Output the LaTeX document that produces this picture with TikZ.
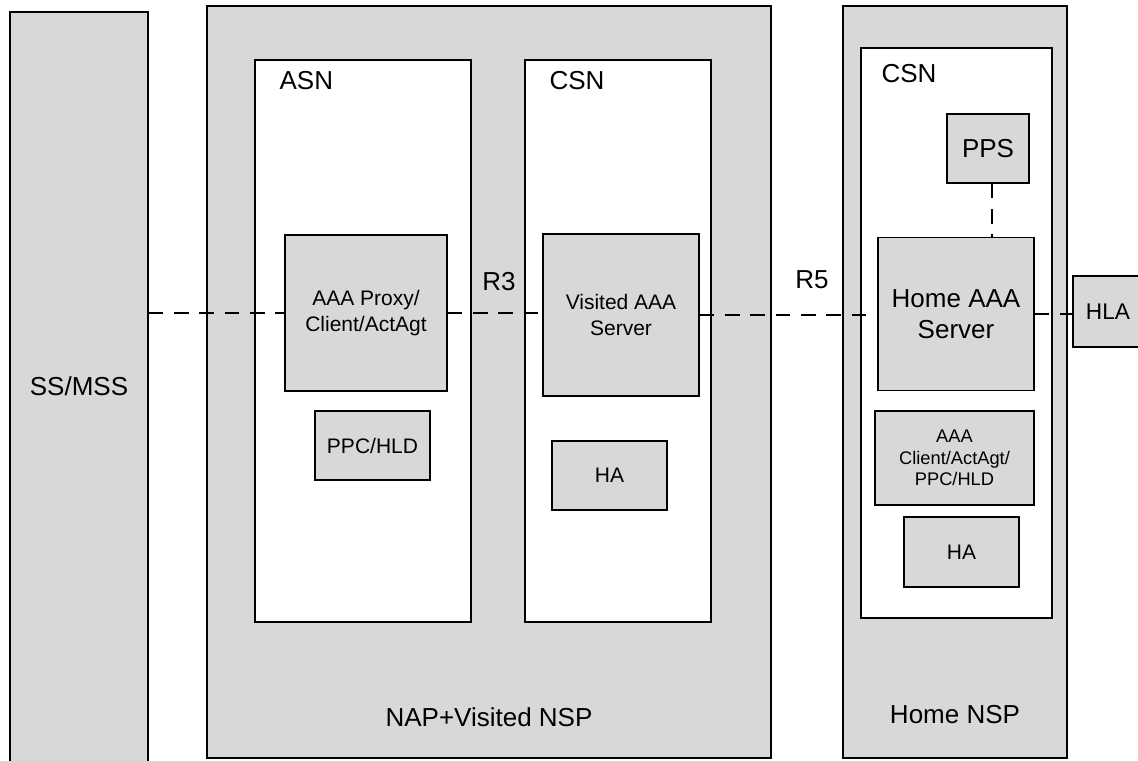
\documentclass[tikz,border=0pt]{standalone}
\usepackage{fontspec}
\setmainfont{Liberation Sans}

\newcommand{\lblfont}{\fontsize{19.5}{23.3}\selectfont}
\newcommand{\hlafont}{\fontsize{17}{20}\selectfont}
\newcommand{\boxfont}{\fontsize{15.75}{19.5}\selectfont}
\newcommand{\smallboxfont}{\fontsize{13.7}{16.2}\selectfont}

\begin{document}
\begin{tikzpicture}[x=0.75pt, y=-0.75pt, line width=0.9pt,
  netbox/.style={draw, fill=boxgray, inner sep=0pt},
  subnet/.style={draw, fill=white, inner sep=0pt},
  entity/.style={draw, fill=boxgray, align=center, inner sep=0pt, font=\boxfont},
  lbl/.style={inner sep=0pt, font=\lblfont},
  link/.style={line width=0.8pt, dash pattern=on 11pt off 8pt}]

  % Colors
  \definecolor{boxgray}{HTML}{D8D8D8}

  \def\px{0.75pt} % one pixel of the layout

  \clip (0,0) rectangle (1138,760);

  % Domains
  \node[netbox, minimum width=138*\px, minimum height=758*\px, font=\lblfont, text depth=10*\px] (ss) at (79,391) {SS/MSS};
  \node[netbox, minimum width=564*\px, minimum height=752*\px] (nap) at (489,382) {};
  \node[netbox, minimum width=224*\px, minimum height=752*\px] (home) at (955,382) {};

  % Network parts
  \node[subnet, minimum width=216*\px, minimum height=562*\px] (asn) at (363,341) {};
  \node[subnet, minimum width=186*\px, minimum height=562*\px] (vcsn) at (618,341) {};
  \node[subnet, minimum width=191*\px, minimum height=570*\px] (hcsn) at (956.5,333) {};

  % Labels
  \node[lbl, anchor=west] (asnlbl) at (279,81) {ASN};
  \node[lbl, anchor=west] (vcsnlbl) at (549,81) {CSN};
  \node[lbl, anchor=west] (hcsnlbl) at (881,74) {CSN};
  \node[lbl] (rthree) at (499,282) {R3};
  \node[lbl] (rfive) at (812,280) {R5};
  \node[lbl] (naplbl) at (489,717) {NAP+Visited NSP};
  \node[lbl] (homelbl) at (955,715) {Home NSP};

  % ASN entities
  \node[entity, minimum width=162*\px, minimum height=156*\px] (proxy) at (366,313) {AAA Proxy/\\Client/ActAgt};
  \node[entity, minimum width=115*\px, minimum height=69*\px] (ppc) at (372.5,445.5) {PPC/HLD};

  % Visited CSN entities
  \node[entity, minimum width=156*\px, minimum height=162*\px] (vaaa) at (621,315) {Visited AAA\\Server};
  \node[entity, minimum width=115*\px, minimum height=69*\px] (vha) at (609.5,475.5) {HA};

  % Home CSN entities
  \node[entity, minimum width=82*\px, minimum height=69*\px, font=\lblfont] (pps) at (988,148.5) {PPS};
  \node[entity, minimum width=156*\px, minimum height=153*\px, font=\lblfont] (haaa) at (956,314) {Home AAA\\Server};
  \node[entity, minimum width=159*\px, minimum height=94*\px, font=\smallboxfont] (hclient) at (954.5,458) {AAA\\Client/ActAgt/\\PPC/HLD};
  \node[entity, minimum width=115*\px, minimum height=70*\px] (hha) at (961.5,552) {HA};
  \node[entity, minimum width=70*\px, minimum height=71*\px, font=\hlafont] (hla) at (1108,311.5) {HLA};

  % Reference points
  \draw[link] (ss.east |- proxy.west) -- (proxy.west);
  \draw[link] (proxy.east) -- (proxy.east -| vaaa.west);
  \draw[link] (vaaa.east) -- (vaaa.east -| haaa.west);
  \draw[link] (haaa.east) -- (haaa.east -| hla.west);
  \draw[link] ([xshift=3pt]pps.south) -- ([xshift=3pt]pps.south |- haaa.north);

\end{tikzpicture}
\end{document}
